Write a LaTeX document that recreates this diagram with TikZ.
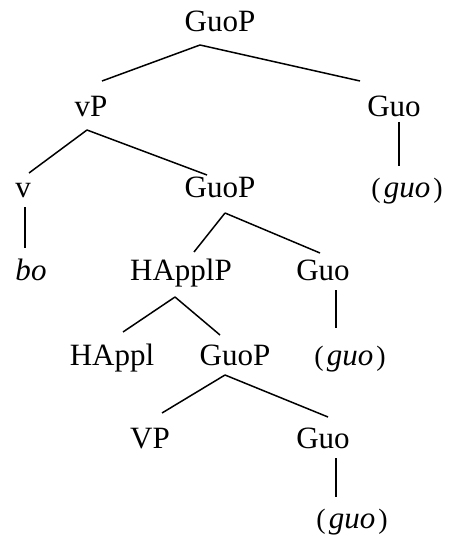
\documentclass[tikz,border=0pt]{standalone}
\usepackage{fontspec}
\setmainfont{Liberation Serif}
\usetikzlibrary{calc}
\tikzset{
	cat/.style={anchor=base, inner sep=0pt, font=\fontsize{31}{36}\selectfont},
	branch/.style={line width=1.5pt}
}
\newcommand{\guoParen}{\llap{\fontsize{28}{32}\selectfont(\kern3pt}\textit{guo}\rlap{\fontsize{28}{32}\selectfont\kern3pt)}}
\newcommand{\branchLine}[6]{
	\draw[branch] ($ (#1.base) + (#2,#3) $) -- ($ (#4.base) + (#5,#6) $);
}
\begin{document}
\begin{tikzpicture}[x=1pt, y=-1pt]
	\useasboundingbox (0,0) rectangle (451,540);
%
	\node[cat] (top) at (220,32) {GuoP};
	\node[cat] (vP) at (91,117) {vP};
	\node[cat] (guoR) at (394,117) {Guo};
	\node[cat] (v) at (23,197) {v};
	\node[cat] (mid) at (220,197) {GuoP};
	\node[cat] (parenR) at (407,197) {\guoParen};
	\node[cat] (bo) at (31,280) {\textit{bo}};
	\node[cat] (happlP) at (181,280) {HApplP};
	\node[cat] (guoM) at (323,280) {Guo};
	\node[cat] (happl) at (112,365) {HAppl};
	\node[cat] (low) at (235,365) {GuoP};
	\node[cat] (parenM) at (350,365) {\guoParen};
	\node[cat] (VP) at (150,448) {VP};
	\node[cat] (guoL) at (323,448) {Guo};
	\node[cat] (parenL) at (352,528) {\guoParen};
%
	%branches
	\branchLine{top}{-20}{13}{vP}{11}{-36}
	\branchLine{top}{-20}{13}{guoR}{-34}{-36}
	\branchLine{vP}{-4}{13}{v}{6}{-24}
	\branchLine{vP}{-4}{13}{mid}{-13}{-22}
	\branchLine{guoR}{5}{5}{parenR}{-8}{-31}
	\branchLine{v}{2}{10}{bo}{-6}{-32}
	\branchLine{mid}{5}{16}{happlP}{13}{-28}
	\branchLine{mid}{5}{16}{guoM}{-3}{-27}
	\branchLine{guoM}{13}{10}{parenM}{-14}{-37}
	\branchLine{happlP}{-6}{17}{happl}{11}{-33}
	\branchLine{happlP}{-6}{17}{low}{-15}{-30}
	\branchLine{low}{-10}{10}{VP}{12}{-35}
	\branchLine{low}{-10}{10}{guoL}{5}{-31}
	\branchLine{guoL}{13}{10}{parenL}{-16}{-31}
\end{tikzpicture}
\end{document}
